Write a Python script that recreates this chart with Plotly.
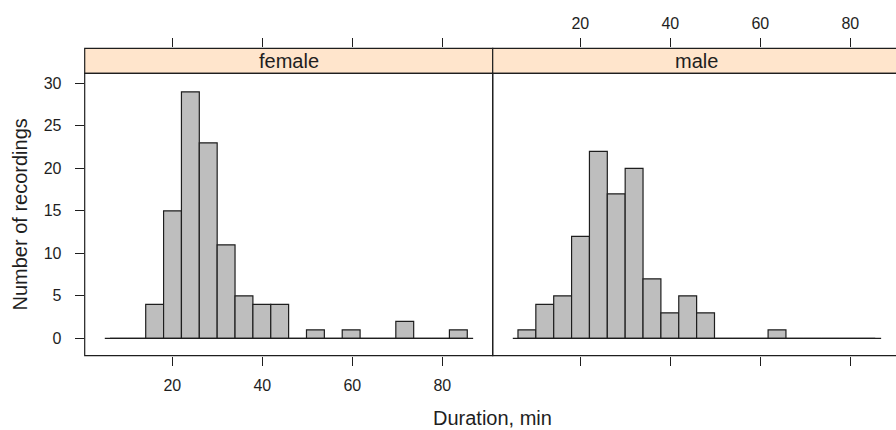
import plotly.graph_objects as go

# Histogram of recording durations, split by sex (shared breaks)
break_start = 6.15          # first break, minutes
bin_width = 3.97            # width of each bin, minutes
n_bins = 20
female_counts = [0, 0, 4, 15, 29, 23, 11, 5, 4, 4, 0, 1, 0, 1, 0, 0, 2, 0, 0, 1]
male_counts = [1, 4, 5, 12, 22, 17, 20, 7, 3, 5, 3, 0, 0, 0, 1, 0, 0, 0, 0, 0]
baseline_x = [5.0, 86.85]   # zero line under the bars
panels = ["female", "male"]
x_ticks = [20, 40, 60, 80]
y_ticks = [0, 5, 10, 15, 20, 25, 30]
x_title = "Duration, min"
y_title = "Number of recordings"

W, H = 896, 430
FONT = "Liberation Sans, Arial, sans-serif"
INK = "#1e1e1e"
BAR = "#bebebe"
STRIP = "#ffe5cc"

centers = [break_start + bin_width * (i + 0.5) for i in range(n_bins)]

# pixel geometry of the panels (the right panel runs past the page edge)
px_left, px_mid, px_right = 84.7, 492.7, 900.7
py_strip_top, py_top, py_bottom = 48.3, 73.3, 355.7


def fx(px):
    return px / W


def fy(py):
    return (H - py) / H


x_range_left = [0.533, 91.2]
x_range_right = [0.533, 0.533 + (W - px_mid) / 4.5]
y_range = [-2.047, 31.18]

fig = go.Figure()
for i, counts in enumerate([female_counts, male_counts]):
    xa = "x" if i == 0 else "x2"
    ya = "y" if i == 0 else "y2"
    fig.add_trace(go.Scatter(x=baseline_x, y=[0, 0], mode="lines",
                             line=dict(color=INK, width=1.2),
                             xaxis=xa, yaxis=ya, hoverinfo="skip"))
    fig.add_trace(go.Bar(x=centers, y=counts, width=bin_width,
                         marker=dict(color=BAR, line=dict(color=INK, width=1.2)),
                         xaxis=xa, yaxis=ya, name=panels[i]))
# empty traces so the strip subplots exist
fig.add_trace(go.Scatter(x=[], y=[], xaxis="x3", yaxis="y3"))
fig.add_trace(go.Scatter(x=[], y=[], xaxis="x4", yaxis="y4"))

tick_common = dict(ticks="outside", ticklen=9, tickwidth=1, tickcolor=INK,
                   showgrid=False, zeroline=False, showline=False,
                   tickfont=dict(family=FONT, size=16, color=INK))
dom_left = [fx(px_left), fx(px_mid)]
dom_right = [fx(px_mid), 1.0]
dom_panel = [fy(py_bottom), fy(py_top)]
dom_strip = [fy(py_top), fy(py_strip_top)]

fig.update_layout(
    width=W, height=H, margin=dict(l=0, r=0, t=0, b=0),
    paper_bgcolor="white", plot_bgcolor="white", showlegend=False,
    barmode="overlay",
    xaxis=dict(domain=dom_left, anchor="y", range=x_range_left,
               tickvals=x_ticks, ticklabelstandoff=6, **tick_common),
    yaxis=dict(domain=dom_panel, anchor="x", range=y_range,
               tickvals=y_ticks, ticklabelstandoff=10, **tick_common),
    xaxis2=dict(domain=dom_right, anchor="y2", range=x_range_right,
                tickvals=x_ticks, showticklabels=False, **tick_common),
    yaxis2=dict(domain=dom_panel, anchor="x2", range=y_range,
                showticklabels=False, ticks="", showgrid=False,
                zeroline=False, showline=False),
    xaxis3=dict(domain=dom_left, anchor="y3", side="top", range=x_range_left,
                tickvals=x_ticks, showticklabels=False, **tick_common),
    yaxis3=dict(domain=dom_strip, anchor="x3", range=[0, 1], visible=False),
    xaxis4=dict(domain=dom_right, anchor="y4", side="top", range=x_range_right,
                tickvals=x_ticks, ticklabelstandoff=3, **tick_common),
    yaxis4=dict(domain=dom_strip, anchor="x4", range=[0, 1], visible=False),
)

# strips with panel names; the right strip is centred on its full (clipped) width
right_full = (px_right - px_mid) / (W - px_mid)
for xd, yd, label, x1 in [("x3 domain", "y3 domain", panels[0], 1.0),
                          ("x4 domain", "y4 domain", panels[1], right_full)]:
    fig.add_shape(type="rect", xref=xd, yref=yd, x0=0, x1=x1, y0=0, y1=1,
                  fillcolor=STRIP, line=dict(color=INK, width=1.2), layer="below")
    fig.add_annotation(xref=xd, yref=yd, x=x1 / 2, y=0.5, text=label,
                       showarrow=False, xanchor="center", yanchor="middle",
                       font=dict(family=FONT, size=20, color=INK))

# panel frames
fig.add_shape(type="rect", xref="x domain", yref="y domain", x0=0, x1=1, y0=0, y1=1,
              line=dict(color=INK, width=1.2))
fig.add_shape(type="rect", xref="x2 domain", yref="y2 domain", x0=0, x1=right_full,
              y0=0, y1=1, line=dict(color=INK, width=1.2))

# axis titles
fig.add_annotation(xref="paper", yref="paper", x=fx((px_left + px_right) / 2), y=fy(418),
                   text=x_title, showarrow=False, xanchor="center", yanchor="middle",
                   font=dict(family=FONT, size=20, color=INK))
fig.add_annotation(xref="paper", yref="paper", x=fx(19), y=fy((py_top + py_bottom) / 2),
                   text=y_title, showarrow=False, textangle=-90,
                   xanchor="center", yanchor="middle",
                   font=dict(family=FONT, size=20, color=INK))

fig.write_html("out.html")
